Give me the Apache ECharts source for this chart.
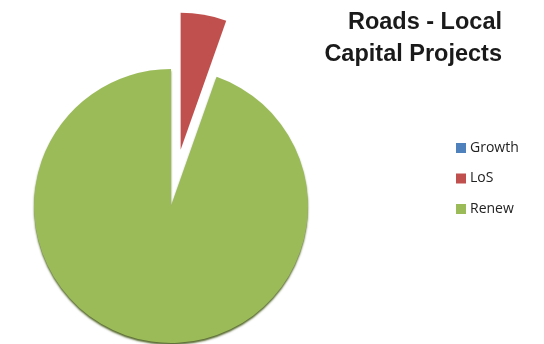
<!DOCTYPE html>
<html>
<head>
<meta charset="utf-8">
<script src="https://cdn.jsdelivr.net/npm/echarts@6/dist/echarts.min.js"></script>
<style>
  html, body { margin: 0; padding: 0; background: #fff; }
  #chart { width: 544px; height: 344px; }
</style>
</head>
<body>
<div id="chart"></div>
<script>
// categories and values (share of capital spend, %)
const categories = ['Growth', 'LoS', 'Renew'];
const values = [0, 5.4, 94.6];
const colors = ['#4F81BD', '#C0504D', '#9BBB59'];

const chart = echarts.init(document.getElementById('chart'), null, { renderer: 'canvas' });

const pieData = categories.map((name, i) => ({
  name: name,
  value: values[i],
  selected: name === 'LoS',
  itemStyle: {
    color: colors[i],
    shadowColor: name === 'Renew' ? 'rgba(70, 90, 25, 0.9)' : 'rgba(0,0,0,0)',
    shadowBlur: 2,
    shadowOffsetY: 2
  }
}));

chart.setOption({
  animation: false,
  backgroundColor: '#fff',
  title: {
    text: 'Roads - Local\nCapital Projects',
    left: 502,
    top: 7,
    padding: 0,
    textAlign: 'right',
    textStyle: {
      fontFamily: 'Liberation Sans',
      fontWeight: 'bold',
      fontSize: 23.5,
      lineHeight: 32,
      color: '#1a1a1a'
    }
  },
  legend: {
    orient: 'vertical',
    left: 456,
    top: 140,
    padding: 0,
    itemWidth: 10,
    itemHeight: 10,
    itemGap: 14.5,
    icon: 'rect',
    data: categories,
    textStyle: {
      fontFamily: 'Open Sans',
      fontSize: 14,
      lineHeight: 16,
      color: '#222',
      padding: [0, 0, 0, -1]
    }
  },
  series: [{
    type: 'pie',
    center: [171, 206],
    radius: 137,
    startAngle: 90,
    clockwise: true,
    selectedMode: 'single',
    selectedOffset: 57,
    avoidLabelOverlap: false,
    label: { show: false },
    labelLine: { show: false },
    emphasis: { disabled: true },
    data: pieData
  }]
});
</script>
</body>
</html>
